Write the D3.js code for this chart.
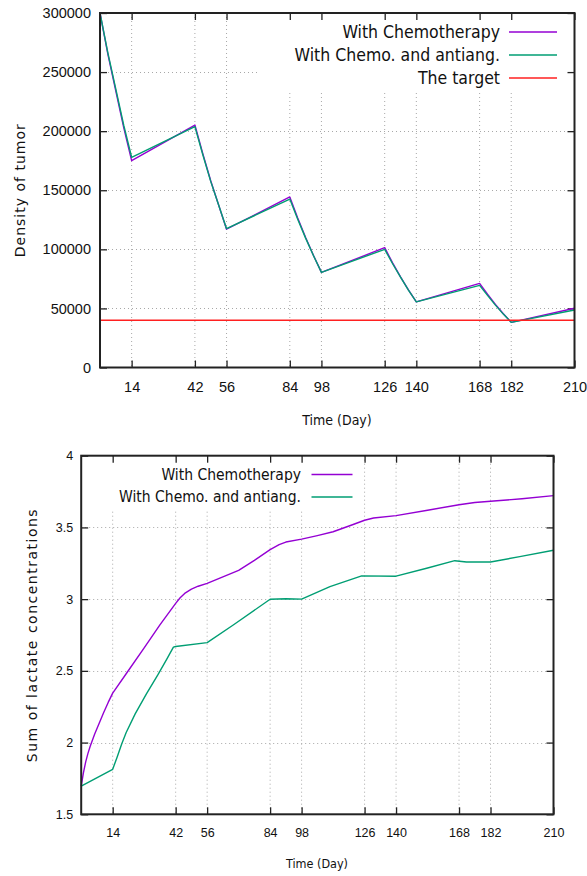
<!DOCTYPE html>
<html>
<head>
<meta charset="utf-8">
<script src="https://cdn.jsdelivr.net/npm/d3@7"></script>
<style>
  body { margin: 0; background: #fff; }
  svg { display: block; font-family: "DejaVu Sans Condensed", "DejaVu Sans", sans-serif; font-stretch: condensed; }
</style>
</head>
<body>
<div id="chart"></div>
<script>
// x ticks shared by both panels (days)
const dayTicks = [14, 42, 56, 84, 98, 126, 140, 168, 182, 210];

// top panel: density of tumor
const tumorDays  = [0, 3.5, 7, 10.5, 14, 42, 45.5, 49, 52.5, 56, 84, 87.5, 91, 94.5, 98, 126, 129.5, 133, 136.5, 140, 168, 171.5, 175, 178.5, 182, 210];
const tumorChemo = [300000, 265000, 234000, 203000, 175000, 205200, 181000, 158000, 137500, 117000, 144300, 126500, 110000, 94800, 80500, 101400, 88500, 76700, 65700, 55500, 71200, 62000, 53400, 45500, 38200, 50100];
const tumorAnti  = [300000, 266000, 235500, 205000, 177900, 203800, 180000, 157500, 137500, 117500, 142500, 125500, 109500, 94600, 80500, 100000, 87800, 76400, 65500, 55500, 69500, 61000, 52800, 45200, 38200, 48700];
const tumorTarget = 40000;
const tumorYTicks = [0, 50000, 100000, 150000, 200000, 250000, 300000];

// bottom panel: sum of lactate concentrations
const lacChemoDays = [0, 1, 2, 3, 4, 6, 8, 10, 12, 14, 20, 28, 35, 42, 44, 46, 49, 52, 56, 63, 70, 77, 84, 88, 91, 98, 105, 112, 120, 126, 130, 140, 154, 168, 175, 182, 196, 210];
const lacChemo     = [1.697, 1.79, 1.865, 1.925, 1.975, 2.06, 2.135, 2.21, 2.28, 2.345, 2.48, 2.66, 2.82, 2.97, 3.01, 3.04, 3.07, 3.09, 3.11, 3.155, 3.2, 3.27, 3.345, 3.38, 3.398, 3.418, 3.443, 3.47, 3.515, 3.55, 3.566, 3.582, 3.62, 3.658, 3.674, 3.682, 3.7, 3.722];
const lacAntiDays  = [0, 14, 16, 18, 20, 24, 29, 34, 38, 41, 42, 56, 67.6, 84, 91, 98, 110.6, 124.7, 140, 153.6, 166.1, 171.3, 182, 195, 210];
const lacAnti      = [1.697, 1.814, 1.9, 1.99, 2.07, 2.2, 2.34, 2.47, 2.58, 2.665, 2.67, 2.697, 2.82, 2.999, 3.003, 3.0, 3.087, 3.162, 3.16, 3.215, 3.268, 3.259, 3.259, 3.296, 3.341];
const lacYTicks = [1.5, 2, 2.5, 3, 3.5, 4];

const W = 587, H = 876;
const COL_CHEMO = "#9400d3", COL_ANTI = "#009e73", COL_TARGET = "#ff2020";

const svg = d3.select("#chart").append("svg")
  .attr("width", W).attr("height", H);

function panel(cfg) {
  const x = d3.scaleLinear().domain([0, 210]).range([cfg.left, cfg.right]);
  const y = d3.scaleLinear().domain(cfg.yDomain).range([cfg.bottom, cfg.top]);
  const g = svg.append("g");

  // dotted grid
  g.append("g").selectAll("line").data(dayTicks.filter(d => d < 210)).join("line")
    .attr("x1", d => x(d)).attr("x2", d => x(d))
    .attr("y1", cfg.top).attr("y2", cfg.bottom)
    .attr("stroke", "#a8a8a8").attr("stroke-width", 1).attr("stroke-dasharray", "1,3");
  g.append("g").selectAll("line").data(cfg.yTicks.slice(1, -1)).join("line")
    .attr("x1", cfg.left).attr("x2", cfg.right)
    .attr("y1", d => Math.round(y(d)) + 0.5).attr("y2", d => Math.round(y(d)) + 0.5)
    .attr("stroke", "#a8a8a8").attr("stroke-width", 1).attr("stroke-dasharray", "1,3");

  // opaque key box hides grid behind it
  g.append("rect").attr("x", cfg.keyBox[0]).attr("y", cfg.top + 1)
    .attr("width", cfg.keyBox[1] - cfg.keyBox[0]).attr("height", cfg.keyBox[2] - cfg.top)
    .attr("fill", "#fff");

  // axes with inward ticks on all four sides
  const tl = 7;
  g.append("g").attr("transform", `translate(0,${cfg.bottom})`)
    .call(d3.axisBottom(x).tickValues(dayTicks).tickSizeInner(-tl).tickSizeOuter(0).tickPadding(cfg.xPad))
    .call(a => a.select(".domain").remove());
  g.append("g").attr("transform", `translate(0,${cfg.top})`)
    .call(d3.axisTop(x).tickValues(dayTicks).tickSizeInner(-tl).tickSizeOuter(0).tickFormat(""))
    .call(a => a.select(".domain").remove());
  g.append("g").attr("transform", `translate(${cfg.left},0)`)
    .call(d3.axisLeft(y).tickValues(cfg.yTicks).tickSizeInner(-tl).tickSizeOuter(0).tickPadding(cfg.yPad).tickFormat(cfg.yFormat))
    .call(a => a.select(".domain").remove());
  g.append("g").attr("transform", `translate(${cfg.right},0)`)
    .call(d3.axisRight(y).tickValues(cfg.yTicks).tickSizeInner(-tl).tickSizeOuter(0).tickFormat(""))
    .call(a => a.select(".domain").remove());
  g.selectAll(".tick line").attr("stroke", "#222").attr("stroke-width", 1.3);
  g.selectAll(".tick text").attr("fill", "#111").style("font-size", cfg.tickFont + "px")
    .style("font-family", "inherit");

  // series
  const line = d3.line().x(d => x(d[0])).y(d => y(d[1]));
  cfg.series.forEach(s => {
    g.append("path").datum(s.days.map((d, i) => [d, s.values[i]]))
      .attr("fill", "none").attr("stroke", s.color).attr("stroke-width", 1.4)
      .attr("stroke-linejoin", "round").attr("d", line);
  });

  // border
  g.append("rect").attr("x", cfg.left).attr("y", cfg.top)
    .attr("width", cfg.right - cfg.left).attr("height", cfg.bottom - cfg.top)
    .attr("fill", "none").attr("stroke", "#222").attr("stroke-width", 2);

  // key
  cfg.series.forEach((s, i) => {
    const ky = cfg.keyY + i * cfg.keyStep;
    g.append("text").attr("x", cfg.keyTextX).attr("y", ky).attr("dy", "0.35em")
      .attr("text-anchor", "end").style("font-size", cfg.keyFont + "px").attr("fill", "#111")
      .text(s.name);
    g.append("line").attr("x1", cfg.keyLine[0]).attr("x2", cfg.keyLine[1])
      .attr("y1", ky).attr("y2", ky).attr("stroke", s.color).attr("stroke-width", 1.5);
  });

  // axis titles
  g.append("text").attr("transform", `translate(${cfg.yTitleX},${(cfg.top + cfg.bottom) / 2}) rotate(-90)`)
    .attr("text-anchor", "middle").attr("dy", "0.35em")
    .style("font-size", "14px").style("font-family", "'DejaVu Sans', sans-serif").style("font-stretch", "normal")
    .style("letter-spacing", cfg.titleSpacing + "px").attr("fill", "#111").text(cfg.yTitle);
  g.append("text").attr("x", cfg.xTitleX).attr("y", cfg.xTitleY).attr("dy", "0.35em")
    .attr("text-anchor", "middle").style("font-size", cfg.xTitleFont + "px").attr("fill", "#111").text("Time (Day)");
}

panel({
  left: 100, right: 574.5, top: 13, bottom: 367.5,
  yDomain: [0, 300000], yTicks: tumorYTicks, yFormat: d3.format("d"),
  xPad: 14, yPad: 9, tickFont: 14.5,
  keyBox: [259, 575, 89],
  keyY: 32, keyStep: 23, keyTextX: 500, keyLine: [509, 557], keyFont: 17.5,
  yTitle: "Density of tumor", yTitleX: 20, titleSpacing: 1,
  xTitleX: 337, xTitleY: 420, xTitleFont: 14,
  series: [
    { name: "With Chemotherapy", color: COL_CHEMO, days: tumorDays, values: tumorChemo },
    { name: "With Chemo. and antiang.", color: COL_ANTI, days: tumorDays, values: tumorAnti },
    { name: "The target", color: COL_TARGET, days: [0, 210], values: [tumorTarget, tumorTarget] }
  ]
});

panel({
  left: 81.2, right: 553.5, top: 455.7, bottom: 814.3,
  yDomain: [1.5, 4], yTicks: lacYTicks, yFormat: d3.format("~g"),
  xPad: 14, yPad: 8, tickFont: 12.5,
  keyBox: [104, 360, 509],
  keyY: 474.5, keyStep: 22.4, keyTextX: 301, keyLine: [311.5, 352.5], keyFont: 15.5,
  yTitle: "Sum of lactate concentrations", yTitleX: 32.5, titleSpacing: 1.5,
  xTitleX: 317, xTitleY: 864, xTitleFont: 12.5,
  series: [
    { name: "With Chemotherapy", color: COL_CHEMO, days: lacChemoDays, values: lacChemo },
    { name: "With Chemo. and antiang.", color: COL_ANTI, days: lacAntiDays, values: lacAnti }
  ]
});
</script>
</body>
</html>
